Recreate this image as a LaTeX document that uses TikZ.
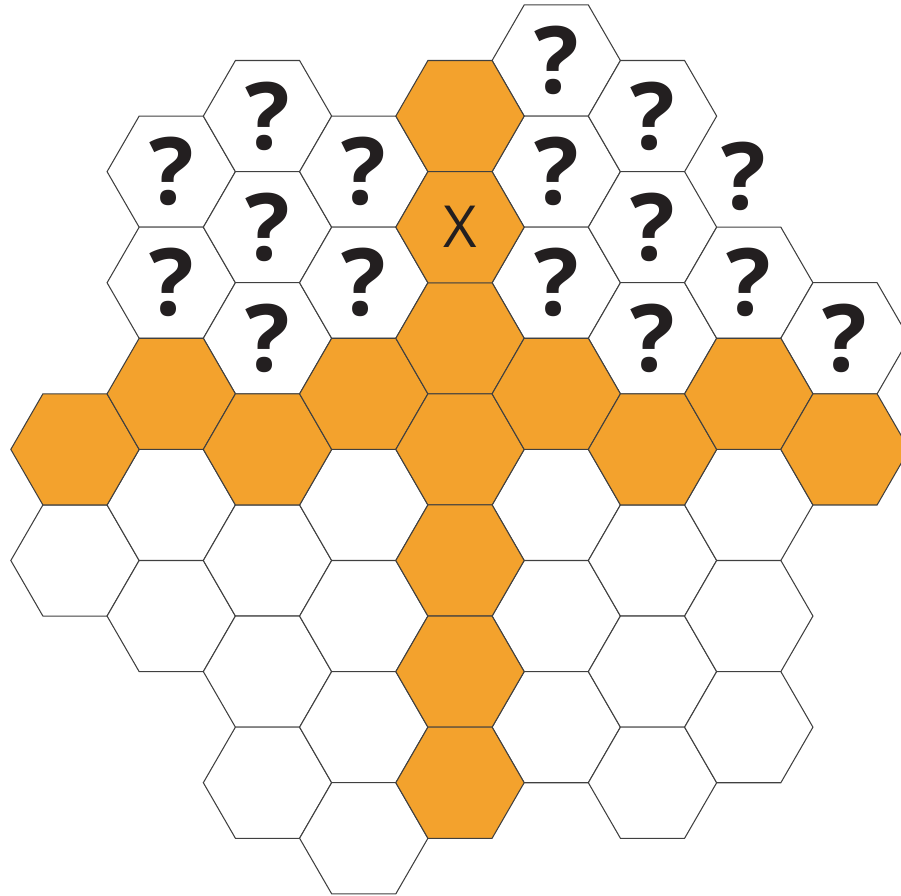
\documentclass[tikz,border=0pt]{standalone}
\usepackage{fontspec}
\setmainfont{Open Sans}
\usetikzlibrary{shapes.geometric}
\definecolor{honey}{RGB}{243,162,45}
\definecolor{ink}{RGB}{35,31,32}

\begin{document}
\begin{tikzpicture}[
    x=1.925cm, y=-1.111cm,
    cell/.style={regular polygon, regular polygon sides=6, minimum size=2.567cm,
        inner sep=0pt, outer sep=0pt, draw=black!75, line width=0.6pt, fill=white},
    full/.style={cell, fill=honey},
    unknown/.style={cell, text=ink, font=\bfseries\fontsize{53}{53}\selectfont},
    qmark/.style={text=ink, font=\bfseries\fontsize{53}{53}\selectfont}
]
    \useasboundingbox (-1.5cm,0.1cm) rectangle (16.52cm,-17.8cm);

    % empty cells (column / half row)
    \foreach \i/\k in {0/10, 1/9, 1/11, 2/10, 2/12, 2/14, 3/9, 3/11, 3/13, 3/15,
                       5/9, 5/11, 5/13, 6/10, 6/12, 6/14, 7/9, 7/11, 7/13}
        \node[cell] (c\i-\k) at (\i,\k) {};

    % unknown cells
    \foreach \i/\k in {1/3, 1/5, 2/2, 2/4, 2/6, 3/3, 3/5, 5/1, 5/3, 5/5,
                       6/2, 6/4, 6/6, 7/5, 8/6}
        \node[unknown] (c\i-\k) at (\i,\k) {?};

    % question mark without its cell
    \node[qmark, xshift=-0.1cm, yshift=-0.1cm] (c7-3) at (7,3) {?};

    % orange cells
    \foreach \i/\k in {0/8, 1/7, 2/8, 3/7, 4/2, 4/6, 4/8, 4/10, 4/12, 4/14,
                       5/7, 6/8, 7/7, 8/8}
        \node[full] (c\i-\k) at (\i,\k) {};

    % start cell
    \node[full, text=ink, font=\fontsize{33}{33}\selectfont] (c4-4) at (4,4) {X};

\end{tikzpicture}
\end{document}
